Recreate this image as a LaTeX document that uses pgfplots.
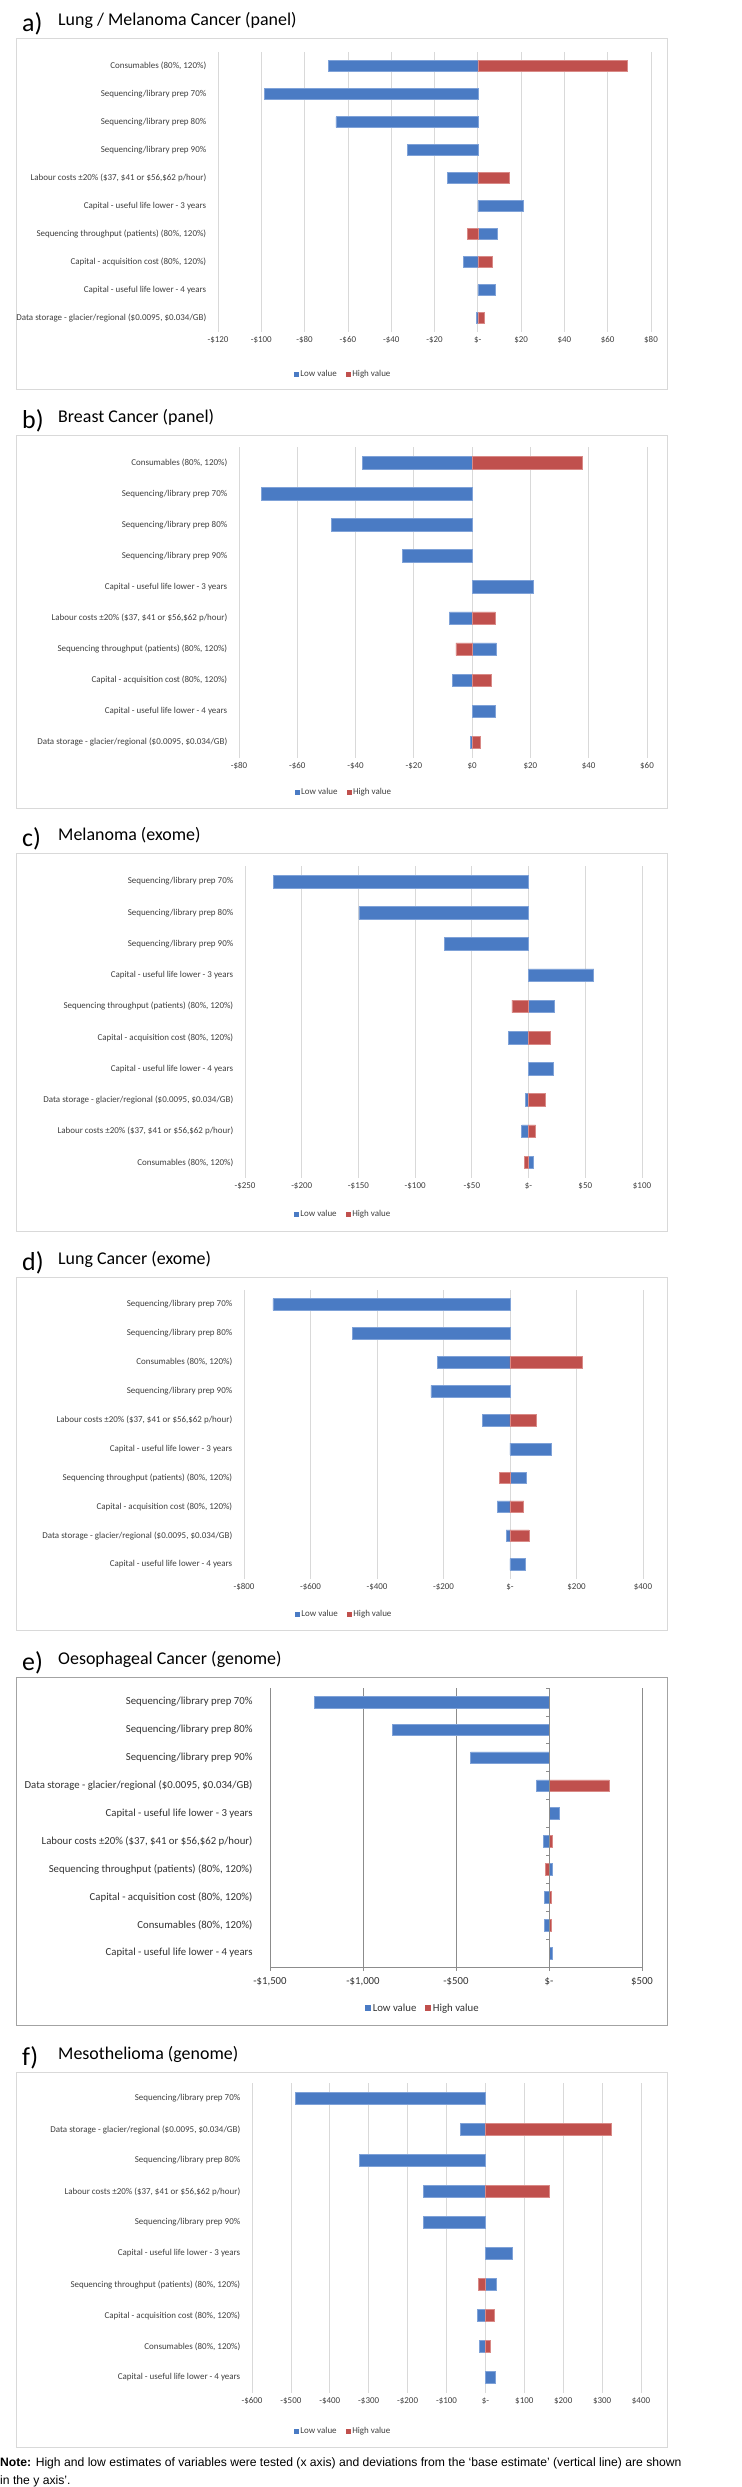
\documentclass[border=0pt]{standalone}
\usepackage{fontspec}
\setmainfont{Carlito}
\newfontfamily\notefont{Liberation Sans}
\usepackage{pgfplots}
\pgfplotsset{compat=1.18}
\definecolor{lowblue}{HTML}{4A7BC4}
\definecolor{lowedge}{HTML}{7FA2D8}
\definecolor{highred}{HTML}{C0504D}
\definecolor{highedge}{HTML}{D98A87}
\definecolor{gridc}{HTML}{D9D9D9}
\definecolor{framec}{HTML}{D9D9D9}
\definecolor{labc}{HTML}{404040}
\definecolor{egrid}{HTML}{8C8C8C}

\def\Lcons{Consumables (80\%, 120\%)}
\def\LseqA{Sequencing/library prep 70\%}
\def\LseqB{Sequencing/library prep 80\%}
\def\LseqC{Sequencing/library prep 90\%}
\def\Llab{Labour costs ±20\% (\$37, \$41 or \$56,\$62 p/hour)}
\def\Lcapt{Capital - useful life lower - 3 years}
\def\Lthru{Sequencing throughput (patients) (80\%, 120\%)}
\def\Lacq{Capital - acquisition cost (80\%, 120\%)}
\def\Lcapf{Capital - useful life lower - 4 years}
\def\Ldata{Data storage - glacier/regional (\$0.0095, \$0.034/GB)}

\pgfplotsset{
 tornado/.style={
   xbar, scale only axis, y dir=reverse, ymin=0.5, ymax=10.5, ytick={1,...,10},
   xmajorgrids, grid style={gridc, line width=0.8bp},
   axis line style={draw=none}, major tick style={draw=none},
   tick label style={font=\fontsize{9}{10}\selectfont, text=labc},
   yticklabel style={xshift=-4bp},
   xticklabel style={yshift=-1bp},
   legend columns=2,
   legend style={draw=none, fill=none, font=\fontsize{9}{10}\selectfont, text=labc,
     anchor=center, inner sep=0pt,
     /tikz/every even column/.append style={column sep=7bp}},
   clip=false,
 },
 lowbar/.style={fill=lowblue, draw=lowedge, line width=0.6bp, /pgf/bar shift=0pt,
   legend image code/.code={\fill[lowblue] (0bp,-2bp) rectangle (4bp,2bp);}},
 highbar/.style={fill=highred, draw=highedge, line width=0.6bp, /pgf/bar shift=0pt,
   legend image code/.code={\fill[highred] (0bp,-2bp) rectangle (4bp,2bp);}},
}
\newcommand\ptitle[3]{%
  \node[anchor=base west, inner sep=0pt, font=\fontsize{26}{28}\selectfont] at (22bp,{-(#1+6)*1bp}) {#2};
  \node[anchor=base west, inner sep=0pt, font=\fontsize{18}{20}\selectfont] at (58bp,{-#1*1bp}) {#3};
}

\begin{document}
\begin{tikzpicture}
\path[use as bounding box, fill=white] (0bp,0bp) rectangle (742bp,-2487bp);

% frames
\draw[framec, line width=0.8bp] (16bp,-38bp) rectangle (667bp,-389bp);
\draw[framec, line width=0.8bp] (16bp,-435bp) rectangle (667bp,-808bp);
\draw[framec, line width=0.8bp] (16bp,-853bp) rectangle (667bp,-1231bp);
\draw[framec, line width=0.8bp] (16bp,-1277bp) rectangle (667bp,-1630bp);
\draw[egrid!80, line width=0.8bp] (16bp,-1677bp) rectangle (667bp,-2025bp);
\draw[framec, line width=0.8bp] (16bp,-2072bp) rectangle (667bp,-2447bp);

% titles
\ptitle{25}{a)}{Lung / Melanoma Cancer (panel)}
\ptitle{422}{b)}{Breast Cancer (panel)}
\ptitle{840}{c)}{Melanoma (exome)}
\ptitle{1264}{d)}{Lung Cancer (exome)}
\ptitle{1664}{e)}{Oesophageal Cancer (genome)}
\ptitle{2059}{f)}{Mesothelioma (genome)}

% ---------------- a) ----------------
\begin{axis}[tornado, at={(218bp,-52bp)}, anchor=north west, width=433bp, height=280bp,
  xmin=-120, xmax=80, xtick={-120,-100,...,80},
  xticklabels={-\$120,-\$100,-\$80,-\$60,-\$40,-\$20,\$-,\$20,\$40,\$60,\$80},
  yticklabels={{\Lcons},{\LseqA},{\LseqB},{\LseqC},{\Llab},{\Lcapt},{\Lthru},{\Lacq},{\Lcapf},{\Ldata}},
  bar width=10.5bp,
  legend style={at={(axis description cs:0.289,-0.15)}}]
\addplot[lowbar] coordinates {(-69,1) (-98.5,2) (-65.5,3) (-32.5,4) (-14,5) (21,6) (9,7) (-6.5,8) (8,9) (-0.7,10)};
\addplot[highbar] coordinates {(69,1) (14.5,5) (-4.8,7) (6.8,8) (3,10)};
\legend{Low value, High value}
\end{axis}

% ---------------- b) ----------------
\begin{axis}[tornado, at={(239bp,-447bp)}, anchor=north west, width=408bp, height=311bp,
  xmin=-80, xmax=60, xtick={-80,-60,...,60},
  xticklabels={-\$80,-\$60,-\$40,-\$20,\$0,\$20,\$40,\$60},
  yticklabels={{\Lcons},{\LseqA},{\LseqB},{\LseqC},{\Lcapt},{\Llab},{\Lthru},{\Lacq},{\Lcapf},{\Ldata}},
  bar width=12.5bp,
  legend style={at={(axis description cs:0.257,-0.109)}}]
\addplot[lowbar] coordinates {(-37.6,1) (-72.3,2) (-48.2,3) (-24,4) (20.9,5) (-7.8,6) (8.3,7) (-6.7,8) (7.8,9) (-0.7,10)};
\addplot[highbar] coordinates {(37.9,1) (8,6) (-5.6,7) (6.5,8) (2.9,10)};
\legend{Low value, High value}
\end{axis}

% ---------------- c) ----------------
\begin{axis}[tornado, at={(245bp,-866bp)}, anchor=north west, width=397bp, height=312bp,
  xmin=-250, xmax=100, xtick={-250,-200,...,100},
  xticklabels={-\$250,-\$200,-\$150,-\$100,-\$50,\$-,\$50,\$100},
  yticklabels={{\LseqA},{\LseqB},{\LseqC},{\Lcapt},{\Lthru},{\Lacq},{\Lcapf},{\Ldata},{\Llab},{\Lcons}},
  bar width=12.5bp,
  legend style={at={(axis description cs:0.247,-0.115)}}]
\addplot[lowbar] coordinates {(-225,1) (-149.5,2) (-74,3) (57.5,4) (23,5) (-18,6) (21.8,7) (-2.5,8) (-6,9) (4.2,10)};
\addplot[highbar] coordinates {(-14.7,5) (19.3,6) (15,8) (6.3,9) (-3.8,10)};
\legend{Low value, High value}
\end{axis}

% ---------------- d) ----------------
\begin{axis}[tornado, at={(244bp,-1290bp)}, anchor=north west, width=399bp, height=289bp,
  xmin=-800, xmax=400, xtick={-800,-600,...,400},
  xticklabels={-\$800,-\$600,-\$400,-\$200,\$-,\$200,\$400},
  yticklabels={{\LseqA},{\LseqB},{\Lcons},{\LseqC},{\Llab},{\Lcapt},{\Lthru},{\Lacq},{\Ldata},{\Lcapf}},
  bar width=11.7bp,
  legend style={at={(axis description cs:0.251,-0.121)}}]
\addplot[lowbar] coordinates {(-713,1) (-473,2) (-218,3) (-238,4) (-82,5) (123,6) (49,7) (-39,8) (-11.5,9) (46,10)};
\addplot[highbar] coordinates {(218,3) (80,5) (-31.5,7) (41.5,8) (57,9)};
\legend{Low value, High value}
\end{axis}

% ---------------- e) ----------------
\begin{axis}[tornado, at={(270bp,-1688bp)}, anchor=north west, width=372bp, height=279bp,
  xmin=-1500, xmax=500, xtick={-1500,-1000,...,500},
  xticklabels={{-\$1,500},{-\$1,000},{-\$500},{\$-},{\$500}},
  yticklabels={{\LseqA},{\LseqB},{\LseqC},{\Ldata},{\Lcapt},{\Llab},{\Lthru},{\Lacq},{\Lcons},{\Lcapf}},
  grid style={egrid, line width=0.8bp},
  axis x line*=bottom, x axis line style={draw=egrid, line width=0.8bp, -},
  xtick style={draw=egrid, line width=0.8bp}, tick align=outside, major tick length=4bp,
  tick label style={font=\fontsize{10.8}{12}\selectfont, text=black!80},
  yticklabel style={xshift=-6bp},
  xticklabel style={yshift=-2bp},
  bar width=11.7bp,
  legend style={at={(axis description cs:0.411,-0.147)}, font=\fontsize{10.8}{12}\selectfont, text=black!80}]
\addplot[lowbar, legend image code/.code={\fill[lowblue] (0bp,-2.5bp) rectangle (5bp,2.5bp);}] coordinates {(-1260,1) (-840,2) (-422,3) (-67,4) (54,5) (-31,6) (18,7) (-23,8) (-23,9) (18,10)};
\addplot[highbar, legend image code/.code={\fill[highred] (0bp,-2.5bp) rectangle (5bp,2.5bp);}] coordinates {(325,4) (20,6) (-18,7) (13,8) (13,9)};
\draw[egrid, line width=0.8bp] (axis cs:0,0.5) -- (axis cs:0,10.5);
\pgfplotsinvokeforeach{0.5,1.5,2.5,3.5,4.5,5.5,6.5,7.5,8.5,9.5,10.5}{
  \draw[egrid, line width=0.8bp] (axis cs:0,#1) -- ++(-3bp,0bp);
}
\legend{Low value, High value}
\end{axis}

% ---------------- f) ----------------
\begin{axis}[tornado, at={(252bp,-2083bp)}, anchor=north west, width=389bp, height=310bp,
  xmin=-600, xmax=400, xtick={-600,-500,...,400},
  xticklabels={-\$600,-\$500,-\$400,-\$300,-\$200,-\$100,\$-,\$100,\$200,\$300,\$400},
  yticklabels={{\LseqA},{\Ldata},{\LseqB},{\Llab},{\LseqC},{\Lcapt},{\Lthru},{\Lacq},{\Lcons},{\Lcapf}},
  bar width=12.5bp,
  legend style={at={(axis description cs:0.234,-0.123)}}]
\addplot[lowbar] coordinates {(-488,1) (-65,2) (-324,3) (-160,4) (-160,5) (70,6) (28,7) (-21,8) (-15,9) (26,10)};
\addplot[highbar] coordinates {(324,2) (163,4) (-18,7) (23,8) (13,9)};
\legend{Low value, High value}
\end{axis}

% note
\node[anchor=base west, inner sep=0pt, font=\notefont\fontsize{12.2}{14}\selectfont] at (0bp,-2466bp)
  {\textbf{Note:} High and low estimates of variables were tested (x axis) and deviations from the ‘base estimate’ (vertical line) are shown};
\node[anchor=base west, inner sep=0pt, font=\notefont\fontsize{12.2}{14}\selectfont] at (0bp,-2484bp)
  {in the y axis’.};
\end{tikzpicture}
\end{document}
